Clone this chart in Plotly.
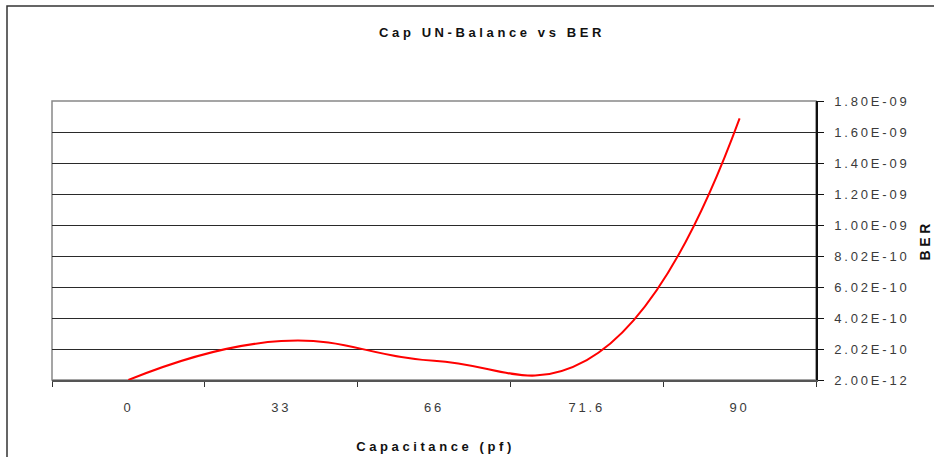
"""Cap UN-Balance vs BER line chart, Excel-style."""

import plotly.graph_objects as go

capacitance = ["0", "33", "66", "71.6", "90"]
ber = [2.0e-12, 2.53e-10, 1.26e-10, 1.31e-10, 1.69e-09]

y_ticks = [2.0e-12, 2.02e-10, 4.02e-10, 6.02e-10, 8.02e-10,
           1.002e-09, 1.202e-09, 1.402e-09, 1.602e-09, 1.802e-09]
y_labels = [f"{v:.2E}" for v in y_ticks]

FONT = "Liberation Sans, Arial, sans-serif"

fig = go.Figure(
    go.Scatter(
        x=capacitance,
        y=ber,
        mode="lines",
        line={"color": "#ff0000", "width": 2, "shape": "spline", "smoothing": 1.3},
        showlegend=False,
    )
)

fig.update_layout(
    width=934,
    height=457,
    paper_bgcolor="white",
    plot_bgcolor="white",
    margin={"l": 52, "r": 118, "t": 101, "b": 77},
    font={"family": FONT, "color": "#3a3a3a", "size": 13},
    title={
        "text": "<b>Cap UN-Balance vs BER</b>",
        "x": 492 / 934,
        "xanchor": "center",
        "y": 1 - 32 / 457,
        "yanchor": "middle",
        "font": {"family": FONT, "size": 13, "color": "#111"},
    },
    xaxis={
        "type": "category",
        "range": [-0.5, 4.5],
        "showgrid": False,
        "showline": True,
        "linecolor": "#555",
        "linewidth": 1.5,
        "ticks": "outside",
        "tickson": "boundaries",
        "ticklen": 5,
        "tickcolor": "#333",
        "ticklabelstandoff": 15,
        "zeroline": False,
    },
    yaxis={
        "side": "right",
        "range": [2.0e-12, 1.802e-09],
        "tickvals": y_ticks,
        "ticktext": y_labels,
        "showgrid": True,
        "gridcolor": "#2a2a2a",
        "gridwidth": 1,
        "showline": True,
        "linecolor": "#111",
        "linewidth": 1.5,
        "ticks": "outside",
        "ticklen": 6,
        "tickcolor": "#111",
        "ticklabelstandoff": 8,
        "zeroline": False,
    },
    annotations=[
        dict(
            text="<b>Capacitance (pf)</b>", xref="paper", yref="paper",
            x=(435 - 52) / 764, y=-(446 - 380) / 279, xanchor="center", yanchor="middle",
            showarrow=False, font={"family": FONT, "size": 13, "color": "#111"},
        ),
        dict(
            text="<b>BER</b>", xref="paper", yref="paper", textangle=-90,
            x=(925 - 52) / 764, y=(380 - 240) / 279, xanchor="center", yanchor="middle",
            showarrow=False, font={"family": FONT, "size": 14, "color": "#111"},
        ),
    ],
    shapes=[
        # outer chart frame
        dict(type="rect", xref="paper", yref="paper",
             x0=-(52 - 7) / 764, x1=(940 - 52) / 764,
             y0=-(465 - 380) / 279, y1=(380 - 6) / 279,
             line={"color": "#333", "width": 1.5}, layer="below"),
        # plot area border
        dict(type="rect", xref="paper", yref="paper", x0=0, x1=1, y0=0, y1=1,
             line={"color": "#888", "width": 1.5}, layer="below"),
    ],
)

page_js = """
document.body.style.margin='0';
document.querySelectorAll('.xtick text, .ytick text').forEach(function(t){t.style.letterSpacing='2.8px';});
document.querySelectorAll('.gtitle, .annotation-text').forEach(function(t){t.style.letterSpacing='3.6px';});
"""

fig.write_html("out.html", post_script=page_js, config={"displayModeBar": False})
